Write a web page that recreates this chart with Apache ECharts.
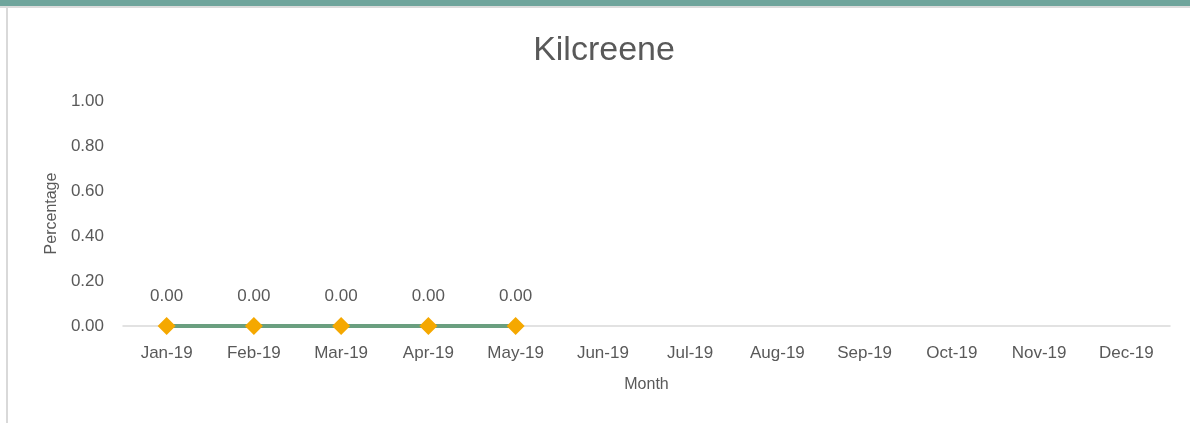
<!DOCTYPE html>
<html>
<head>
<meta charset="utf-8">
<script src="https://cdn.jsdelivr.net/npm/echarts@6/dist/echarts.min.js"></script>
<style>
html,body{margin:0;padding:0;background:#fff;}
#c{width:1190px;height:423px;}
</style>
</head>
<body>
<div id="c"></div>
<script>
const titleText = "Kilcreene";
const months = ["Jan-19","Feb-19","Mar-19","Apr-19","May-19","Jun-19","Jul-19","Aug-19","Sep-19","Oct-19","Nov-19","Dec-19"];
const percentage = [0, 0, 0, 0, 0, null, null, null, null, null, null, null];
const yTicks = [0, 0.2, 0.4, 0.6, 0.8, 1.0];
const xName = "Month";
const yName = "Percentage";

const chart = echarts.init(document.getElementById('c'), null, {renderer: 'canvas'});
const font = "'Liberation Sans', Arial, sans-serif";
const txt = '#595959';
chart.setOption({
  animation: false,
  backgroundColor: '#ffffff',
  graphic: [
    {type: 'rect', left: 0, top: 0, shape: {width: 1190, height: 6}, style: {fill: '#6fa59c'}, silent: true},
    {type: 'rect', left: 0, top: 6, shape: {width: 1190, height: 2}, style: {fill: '#dcdcdc'}, silent: true},
    {type: 'rect', left: 6, top: 8, shape: {width: 2, height: 415}, style: {fill: '#d9d9d9'}, silent: true}
  ],
  title: {
    text: titleText,
    left: 599,
    top: 29,
    textAlign: 'center',
    textStyle: {fontFamily: font, fontSize: 34, fontWeight: 'normal', color: txt}
  },
  grid: {left: 123, right: 20, top: 101, bottom: 97, containLabel: false},
  xAxis: {
    type: 'category',
    data: months,
    boundaryGap: true,
    name: xName,
    nameLocation: 'middle',
    nameGap: 51,
    nameTextStyle: {fontFamily: font, fontSize: 16, color: txt},
    axisLine: {show: true, lineStyle: {color: '#d9d9d9', width: 1.5}},
    axisTick: {show: false},
    axisLabel: {fontFamily: font, fontSize: 17, color: txt, margin: 19, interval: 0},
    splitLine: {show: false}
  },
  yAxis: {
    type: 'value',
    min: yTicks[0],
    max: yTicks[yTicks.length - 1],
    interval: 0.2,
    name: yName,
    nameLocation: 'middle',
    nameGap: 63,
    nameTextStyle: {fontFamily: font, fontSize: 16, color: txt},
    axisLine: {show: false},
    axisTick: {show: false},
    splitLine: {show: false},
    axisLabel: {fontFamily: font, fontSize: 17, color: txt, margin: 19, formatter: v => v.toFixed(2)}
  },
  series: [{
    type: 'line',
    data: percentage,
    connectNulls: false,
    symbol: 'diamond',
    symbolSize: 18,
    lineStyle: {color: '#6a9f7f', width: 4},
    itemStyle: {color: '#f5a800'},
    label: {
      show: true,
      position: 'top',
      distance: 12,
      fontFamily: font,
      fontSize: 17,
      color: txt,
      formatter: p => (p.value == null ? '' : Number(p.value).toFixed(2))
    },
    z: 3
  }]
});
</script>
</body>
</html>
